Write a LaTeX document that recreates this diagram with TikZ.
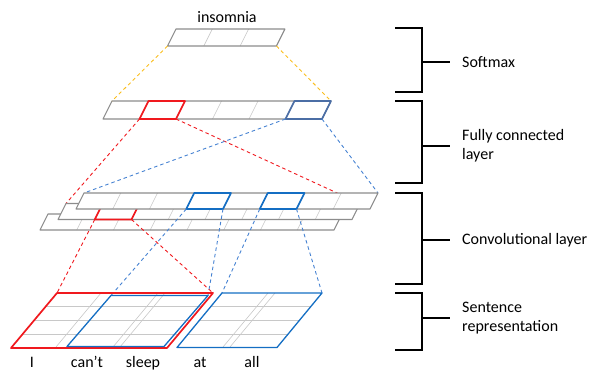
\documentclass[tikz,border=0pt]{standalone}
\usepackage{fontspec}
\setmainfont{Carlito}
\usetikzlibrary{calc}

\definecolor{plategray}{RGB}{140,140,140}
\definecolor{cellgray}{RGB}{200,200,200}
\definecolor{selred}{RGB}{240,25,30}
\definecolor{selblue}{RGB}{20,110,195}
\definecolor{fcblue}{RGB}{75,110,165}
\definecolor{linkblue}{RGB}{70,130,210}
\definecolor{linkgold}{RGB}{250,190,30}

% corner coordinates of a slanted layer: name, x, y (top left), cell width, cells, height
\newcommand{\platecoords}[6]{%
  \foreach \k in {0,...,#5} {
    \coordinate (#1-t\k) at ({#2+\k*#4},#3);
    \coordinate (#1-b\k) at ({#2+\k*#4-0.5*#6},{#3+#6});
  }%
}
% draw the layer: name, cells
\newcommand{\drawplate}[2]{%
  \fill[white] (#1-t0) -- (#1-t#2) -- (#1-b#2) -- (#1-b0) -- cycle;
  \foreach \k in {1,...,#2} \draw[cell] (#1-t\k) -- (#1-b\k);
  \draw[plate] (#1-t0) -- (#1-t#2) -- (#1-b#2) -- (#1-b0) -- cycle;
}

\tikzset{
  plate/.style={draw=plategray, line width=1.1pt, line join=round},
  cell/.style={draw=cellgray, line width=0.6pt},
  redsel/.style={draw=selred, line width=1.7pt, line join=round},
  bluesel/.style={draw=selblue, line width=1.6pt, line join=round},
  fcsel/.style={draw=fcblue, line width=1.6pt, line join=round},
  redlink/.style={draw=selred, line width=0.9pt, dash pattern=on 3.5pt off 3pt},
  bluelink/.style={draw=linkblue, line width=0.9pt, dash pattern=on 3.5pt off 3pt},
  goldlink/.style={draw=linkgold, line width=0.9pt, dash pattern=on 3.5pt off 3pt},
  brace/.style={draw=black, line width=1.2pt},
  txt/.style={font=\fontsize{16}{19}\selectfont, inner sep=0pt},
  layername/.style={txt, anchor=west, align=left}
}

\begin{document}
\begin{tikzpicture}[x=1pt, y=-1pt]
\useasboundingbox (0,0) rectangle (590,372);

% layers
\platecoords{soft}{176}{29}{36.3}{3}{17}
\platecoords{fc}{112}{101}{36.5}{6}{18}
\platecoords{back}{48}{214}{36.75}{8}{16}
\platecoords{mid}{66}{203.5}{36.75}{8}{16}
\platecoords{front}{84}{193}{36.75}{8}{16}

% sentence boxes
\coordinate (rs-tl) at (57,293);   \coordinate (rs-tr) at (213,293);
\coordinate (rs-br) at (167,348);  \coordinate (rs-bl) at (11,348);
\coordinate (b1-tl) at (111,295.5); \coordinate (b1-tr) at (208,295.5);
\coordinate (b1-br) at (164,346.5); \coordinate (b1-bl) at (67,346.5);
\coordinate (b2-tl) at (222,293);  \coordinate (b2-tr) at (322,293);
\coordinate (b2-br) at (277,347.5); \coordinate (b2-bl) at (177,347.5);

% softmax
\drawplate{soft}{3}
\node[txt] (out) at (227,17) {insomnia};

% fully connected
\drawplate{fc}{6}
\draw[redsel] (fc-t1) -- (fc-t2) -- (fc-b2) -- (fc-b1) -- cycle;
\draw[fcsel] (fc-t5) -- (fc-t6) -- (fc-b6) -- (fc-b5) -- cycle;
\draw[goldlink] (soft-b0) -- (fc-t0);
\draw[goldlink] (soft-b3) -- (fc-t6);

% fc -> convolution
\draw[redlink] (fc-b1) -- (mid-t0);
\draw[redlink] (fc-b2) -- (mid-t8);
\draw[bluelink] (fc-b5) -- (front-t0);
\draw[bluelink] (fc-b6) -- (front-t8);

% convolutional layer
\drawplate{back}{8}
\drawplate{mid}{8}
\draw[redsel] (mid-t1) -- (mid-t2) -- (mid-b2) -- (mid-b1) -- cycle;
\drawplate{front}{8}
\draw[bluesel] (front-t3) -- (front-t4) -- (front-b4) -- (front-b3) -- cycle;
\draw[bluesel] (front-t5) -- (front-t6) -- (front-b6) -- (front-b5) -- cycle;

% convolution -> sentence
\draw[redlink] (mid-b1) -- (rs-tl);
\draw[redlink] (mid-b2) -- (rs-tr);
\draw[bluelink] (front-b3) -- (b1-tl);
\draw[bluelink] (front-b4) -- (b1-tr);
\draw[bluelink] (front-b5) -- (b2-tl);
\draw[bluelink] (front-b6) -- (b2-tr);

% sentence representation
\foreach \r in {1,2,3} {
  \draw[cell] ($(rs-tl)!\r/4!(rs-bl)$) -- ($(rs-tr)!\r/4!(rs-br)$);
  \draw[cell] ($(b2-tl)!\r/4!(b2-bl)$) -- ($(b2-tr)!\r/4!(b2-br)$);
}
\foreach \x in {56,113,120,223,230}
  \draw[cell] (\x,347) -- ({\x+45},293);
\draw[redsel] (rs-tl) -- (rs-tr) -- (rs-br) -- (rs-bl) -- cycle;
\draw[bluesel, line width=1.3pt] (b1-tl) -- (b1-tr) -- (b1-br) -- (b1-bl) -- cycle;
\draw[bluesel, line width=1.3pt] (b2-tl) -- (b2-tr) -- (b2-br) -- (b2-bl) -- cycle;

\foreach \w/\x [count=\i] in {I/32, can’t/87, sleep/143, at/200, all/252}
  \node[txt, anchor=base] (word\i) at (\x,367) {\w};

% brackets and layer names
\foreach \n/\top/\bot/\mid/\lbl in {sm/28/92/62/Softmax,
    fcl/101/183/146/{Fully connected\\layer},
    cv/193/284/240/Convolutional layer,
    sr/293/350/318/{Sentence\\representation}} {
  \coordinate (\n-top) at (395,\top);
  \coordinate (\n-bot) at (395,\bot);
  \coordinate (\n-mid) at (422,\mid);
  \node[layername] (\n-name) at (462,\mid) {\lbl};
  \draw[brace] (\n-top) -| (\n-mid) |- (\n-bot);
  \draw[brace] (\n-mid) -- ([xshift=-12pt]\n-name.west);
}
\end{tikzpicture}
\end{document}
